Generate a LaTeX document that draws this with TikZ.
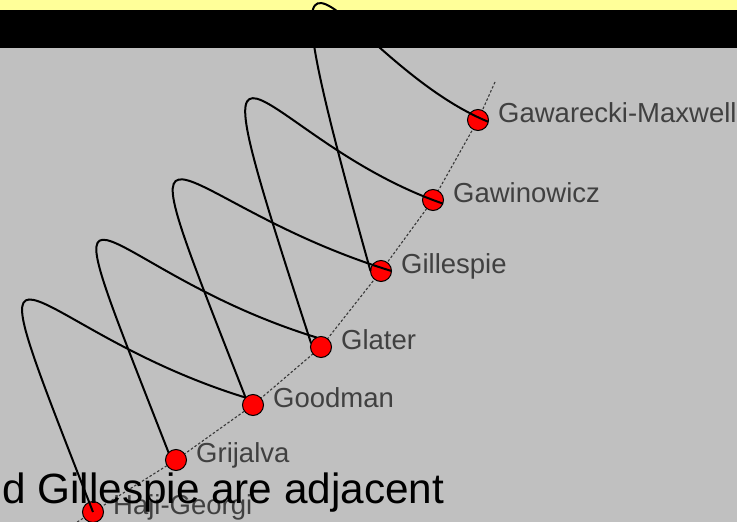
\documentclass[tikz,border=0pt]{standalone}
\usepackage{fontspec}
\setmainfont{Liberation Sans}
\definecolor{bggray}{HTML}{C0C0C0}
\definecolor{topyellow}{HTML}{FFFF99}
\begin{document}
\begin{tikzpicture}[x=1pt,y=-1pt,
  vert/.style={circle,draw=black,fill=red,line width=1pt,minimum size=21pt,inner sep=0pt,outer sep=0pt},
  lbl/.style={anchor=base west,inner sep=0pt,text=black!75,font=\fontsize{27.5}{30}\selectfont},
  chainline/.style={draw=black!78,line width=1.1pt,dash pattern=on 2.5pt off 2pt},
  arcline/.style={draw=black,line width=2pt},
  note/.style={anchor=base west,inner sep=0pt,text=black,font=\fontsize{42.3}{46}\selectfont}]
\useasboundingbox (0,0) rectangle (737,522);
\clip (0,0) rectangle (737,522);
% backgrounds
\fill[bggray] (0,0) rectangle (737,522);
\fill[topyellow] (0,0) rectangle (737,10);
\fill[black] (0,10) rectangle (737,48);
% positions
\coordinate (ctop) at (495,82);
\coordinate (pgm) at (478,120);
\coordinate (pgw) at (433,200);
\coordinate (pgi) at (381,271);
\coordinate (pgl) at (321,347);
\coordinate (pgd) at (253,405);
\coordinate (pgr) at (176,460);
\coordinate (phg) at (93,512);
\coordinate (cbot) at (60,533);
% dotted chain
\draw[chainline] (ctop) -- (pgm) -- (pgw) -- (pgi) -- (pgl) -- (pgd) -- (pgr) -- (phg) -- (cbot);
% vertices
\node[vert] (gm) at (pgm) {};
\node[vert] (gw) at (pgw) {};
\node[vert] (gi) at (pgi) {};
\node[vert] (gl) at (pgl) {};
\node[vert] (gd) at (pgd) {};
\node[vert] (gr) at (pgr) {};
\node[vert] (hg) at (phg) {};
% arcs
\draw[arcline] (hg.center) .. controls +(-134,-343) and +(-228,-70) .. (gd.north west);
\draw[arcline] (gr.north west) .. controls +(-134,-343) and +(-228,-70) .. (gl.115);
\draw[arcline] (gd.north west) .. controls +(-134,-343) and +(-228,-70) .. (gi.east);
\draw[arcline] (gl.160) .. controls +(-130,-400) and +(-190,-66) .. (gw.-20);
\draw[arcline] (gi.west) .. controls +(-126,-450) and +(-150,-62) .. (gm.-10);
% labels
\node[lbl] (lgm) at ([xshift=20pt,yshift=-2pt]gm.center) {Gawarecki-Maxwell};
\node[lbl] (lgw) at ([xshift=20pt,yshift=-2pt]gw.center) {Gawinowicz};
\node[lbl] (lgi) at ([xshift=20pt,yshift=-2pt]gi.center) {Gillespie};
\node[lbl] (lgl) at ([xshift=20pt,yshift=-2pt]gl.center) {Glater};
\node[lbl] (lgd) at ([xshift=20pt,yshift=-2pt]gd.center) {Goodman};
\node[lbl] (lgr) at ([xshift=20pt,yshift=-2pt]gr.center) {Grijalva};
\node[lbl] (lhg) at ([xshift=20pt,yshift=-2pt]hg.center) {Haji-Georgi};
% caption fragment
\node[note] (cap) at (2,503) {d Gillespie are adjacent};
\end{tikzpicture}
\end{document}
